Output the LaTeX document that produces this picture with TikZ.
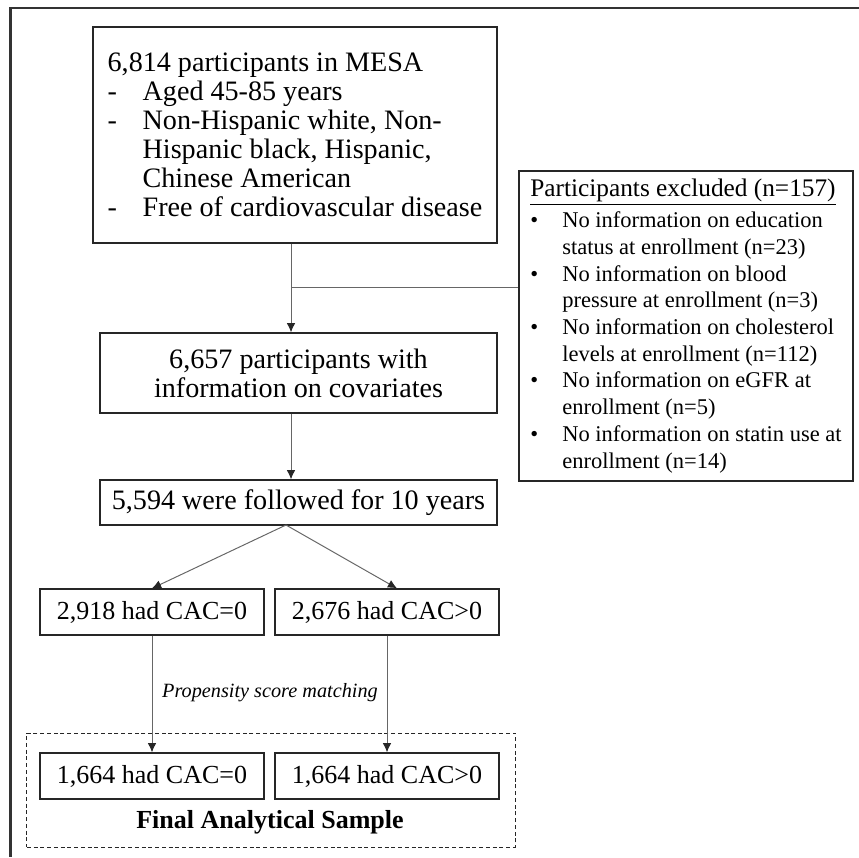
\documentclass[tikz,border=0pt]{standalone}
\usepackage{fontspec}
\setmainfont{Liberation Serif}
\usetikzlibrary{arrows.meta,calc}

\tikzset{
  box/.style={draw=black!85, line width=0.9pt, inner sep=0pt, align=center},
  link/.style={draw=black!60, line width=0.7pt},
  bigtext/.style={font=\fontsize{20}{20.6}\selectfont},
}
\newcommand{\dashitem}{\makebox[0.875cm][l]{-}}
\newcommand{\dashcont}{\hspace*{0.875cm}}
\newcommand{\bulitem}{\makebox[0.8cm][l]{\textbullet}}
\newcommand{\bulcont}{\hspace*{0.8cm}}

\begin{document}
\begin{tikzpicture}[x=0.025cm, y=-0.025cm, >={Latex[length=6.5pt,width=6pt,color=black!85]}]
    \useasboundingbox (0,0) rectangle (859,857);
    \draw[line width=1.8pt, black!80] (859,8) -- (10.5,8) -- (10.5,857);

    \path
    % Study population
    (295,135) node[box, bigtext, align=left, minimum width=10.1cm, minimum height=5.4cm] (mesa)
        {6,814 participants in MESA\\
         \dashitem Aged 45-85 years\\
         \dashitem Non-Hispanic white, Non-\\
         \dashcont Hispanic black, Hispanic,\\
         \dashcont Chinese American\\
         \dashitem Free of cardiovascular disease}

    % Exclusions
    (686,326) node[box, align=left, minimum width=8.35cm, minimum height=7.75cm,
                   font=\fontsize{16}{19}\selectfont] (excl)
        {{\fontsize{18}{19}\selectfont\underline{Participants excluded (n=157)}}\\[3pt]
         \bulitem No information on education\\
         \bulcont status at enrollment (n=23)\\
         \bulitem No information on blood\\
         \bulcont pressure at enrollment (n=3)\\
         \bulitem No information on cholesterol\\
         \bulcont levels at enrollment (n=112)\\
         \bulitem No information on eGFR at\\
         \bulcont enrollment (n=5)\\
         \bulitem No information on statin use at\\
         \bulcont enrollment (n=14)}

    % Remaining participants
    (298.5,373)   node[box, bigtext, minimum width=9.925cm, minimum height=2cm] (cov)
        {6,657 participants with\\information on covariates}
    (298.5,502.5) node[box, bigtext, minimum width=9.925cm, minimum height=1.125cm] (fol)
        {5,594 were followed for 10 years}

    % CAC groups
    (152,612) node[box, font=\fontsize{18.5}{20}\selectfont, minimum width=5.6cm, minimum height=1.15cm] (cac0) {2,918 had CAC=0}
    (387,612) node[box, font=\fontsize{18.5}{20}\selectfont, minimum width=5.6cm, minimum height=1.15cm] (cac1) {2,676 had CAC>0}
    (270,693) node[font=\fontsize{14.4}{16}\selectfont\itshape] (psm) {Propensity score matching}

    % Matched sample
    (271,790) node[draw=black!85, line width=0.7pt, dash pattern=on 2.8pt off 2pt,
                   minimum width=12.2cm, minimum height=2.85cm] (sample) {}
    (152,776) node[box, font=\fontsize{18.5}{20}\selectfont, minimum width=5.6cm, minimum height=1.15cm] (fin0) {1,664 had CAC=0}
    (387,776) node[box, font=\fontsize{18.5}{20}\selectfont, minimum width=5.6cm, minimum height=1.15cm] (fin1) {1,664 had CAC>0}
    (270,822) node[font=\fontsize{18.5}{20}\selectfont\bfseries] (final) {Final Analytical Sample};

    % Link the boxes
    \coordinate (split) at (291,287);
    \coordinate (fork) at (286,525);
    \draw[link] (mesa.south -| split) -- (split);
    \draw[link,->] (split) -- (split |- cov.north);
    \draw[link] (split) -- (split -| excl.west);
    \draw[link,->] (cov.south -| split) -- (fol.north -| split);
    \draw[link,->] (fork) -- (cac0.north);
    \draw[link,->] (fork) -- ($(cac1.north)+(10,0)$);
    \draw[link,->] (cac0) -- (fin0);
    \draw[link,->] (cac1) -- (fin1);
\end{tikzpicture}
\end{document}
